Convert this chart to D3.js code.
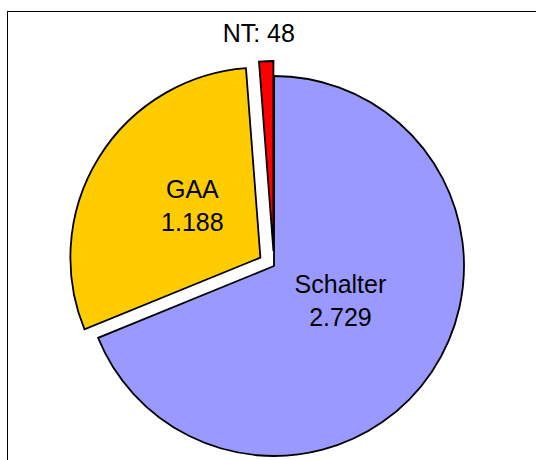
<!DOCTYPE html>
<html>
<head>
<meta charset="utf-8">
<script src="https://cdn.jsdelivr.net/npm/d3@7"></script>
<style>
    body { margin: 0; background: #fff; }
    svg { display: block; }
    text { font-family: Arial, "Liberation Sans", sans-serif; font-size: 25px; fill: #000; }
</style>
</head>
<body>
<svg id="chart" width="536" height="460"></svg>
<script>
// chart data
var categories = ["Schalter", "GAA", "NT"];
var values = [2729, 1188, 48];
var valueLabels = ["2.729", "1.188", "48"];
var colors = ["#9999FF", "#FFCC00", "#FF0000"];
var exploded = [0, 16, 15];

var svg = d3.select("#chart"),
    width = +svg.attr("width"),
    height = +svg.attr("height");

var cx = 274, cy = 266, radius = 190;

// plot area frame (only the top and left edges fall inside the picture)
svg.append("rect")
    .attr("x", 7.5)
    .attr("y", 11.5)
    .attr("width", width + 20)
    .attr("height", height + 20)
    .attr("fill", "none")
    .attr("stroke", "#000")
    .attr("stroke-width", 1);

var data = categories.map(function (c, i) {
    return {name: c, value: values[i], label: valueLabels[i], color: colors[i], offset: exploded[i]};
});

var pie = d3.pie()
    .sort(null)
    .value(function (d) { return d.value; });

var arc = d3.arc()
    .innerRadius(0)
    .outerRadius(radius);

var arcs = pie(data);

function shift(d) {
    var mid = (d.startAngle + d.endAngle) / 2;
    return [Math.sin(mid) * d.data.offset, -Math.cos(mid) * d.data.offset];
}

var g = svg.append("g")
    .attr("transform", "translate(" + cx + "," + cy + ")");

g.selectAll(".slice")
    .data(arcs)
    .enter().append("path")
    .attr("class", "slice")
    .attr("transform", function (d) {
        var s = shift(d);
        return "translate(" + s[0] + "," + s[1] + ")";
    })
    .attr("d", arc)
    .attr("fill", function (d) { return d.data.color; })
    .attr("stroke", "#000")
    .attr("stroke-width", 1.8)
    .attr("stroke-linejoin", "miter");

// labels: inside the two big slices, outside for the tiny one
var labelArc = d3.arc()
    .innerRadius(80)
    .outerRadius(80);

var outerArc = d3.arc()
    .innerRadius(radius + 38)
    .outerRadius(radius + 38);

arcs.forEach(function (d) {
    var s = shift(d);
    if (d.data.value > 500) {
        var c = labelArc.centroid(d);
        var t = g.append("text")
            .attr("text-anchor", "middle")
            .attr("transform", "translate(" + (c[0] + s[0]) + "," + (c[1] + s[1] - 15) + ")");
        t.append("tspan").attr("x", 0).attr("dy", "-0.1em").text(d.data.name);
        t.append("tspan").attr("x", 0).attr("dy", "1.33em").text(d.data.label);
    } else {
        var o = outerArc.centroid(d);
        g.append("text")
            .attr("text-anchor", "middle")
            .attr("x", o[0] + s[0] - 6)
            .attr("y", o[1] + s[1] + 19)
            .text(d.data.name + ": " + d.data.label);
    }
});
</script>
</body>
</html>
